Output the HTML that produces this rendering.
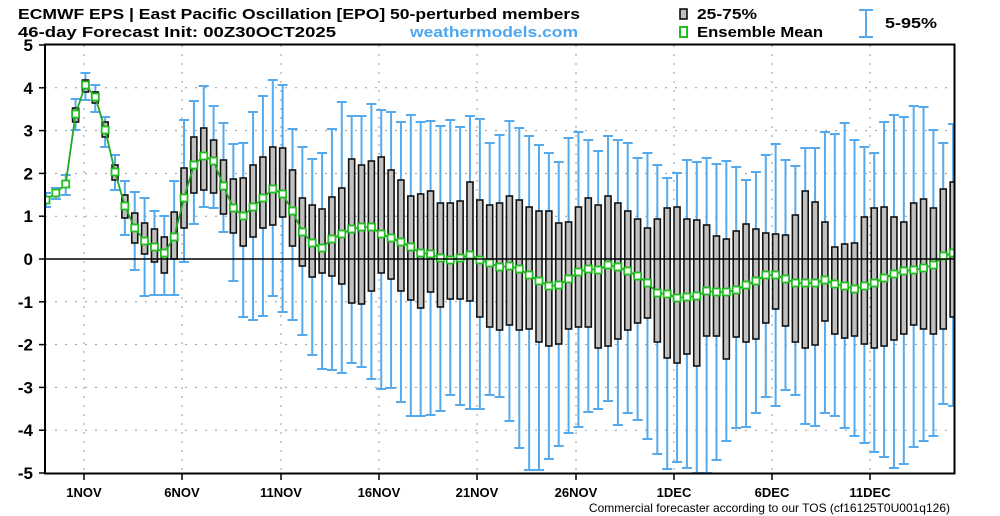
<!DOCTYPE html>
<html><head><meta charset="utf-8"><style>
html,body{margin:0;padding:0;background:#fff;}
svg{display:block;font-family:"Liberation Sans",sans-serif;}
</style></head><body>
<svg id="c" width="1000" height="516" xmlns="http://www.w3.org/2000/svg">
<defs><clipPath id="pc"><rect x="45" y="44" width="910" height="430"/></clipPath></defs>
<rect width="1000" height="516" fill="#fff"/>
<g font-weight="bold" font-size="15" fill="#000">
<text x="18" y="19" textLength="562" lengthAdjust="spacingAndGlyphs">ECMWF EPS | East Pacific Oscillation [EPO]  50-perturbed members</text>
<text x="18" y="37" textLength="318" lengthAdjust="spacingAndGlyphs">46-day Forecast Init: 00Z30OCT2025</text>
<text x="410" y="37" fill="#4da6f0" textLength="168" lengthAdjust="spacingAndGlyphs">weathermodels.com</text>
<text x="697" y="19" textLength="60" lengthAdjust="spacingAndGlyphs">25-75%</text>
<text x="697" y="37" textLength="126" lengthAdjust="spacingAndGlyphs">Ensemble Mean</text>
<text x="885" y="28" textLength="52" lengthAdjust="spacingAndGlyphs">5-95%</text>
</g>
<rect x="680" y="9" width="7" height="10" fill="#c0c0c0" stroke="#000" stroke-width="1.5"/>
<rect x="680" y="27" width="7" height="10" fill="#fff" stroke="#22bb22" stroke-width="2"/>
<g stroke="#55aaee" stroke-width="2"><line x1="866" y1="10" x2="866" y2="37"/><line x1="859" y1="10" x2="873" y2="10"/><line x1="859" y1="37" x2="873" y2="37"/></g>
<g id="grid"></g>
<g id="data" clip-path="url(#pc)"></g>
<line x1="45" y1="259" x2="955" y2="259" stroke="#000" stroke-width="1.5"/>
<rect x="45" y="44.5" width="909.5" height="429" fill="none" stroke="#000" stroke-width="2"/>
<g id="labels" font-weight="bold" fill="#000"></g>
<text x="950" y="512" font-size="12" text-anchor="end" fill="#000">Commercial forecaster according to our TOS (cf16125T0U001q126)</text>
</svg>
<script>
var NS="http://www.w3.org/2000/svg";
function el(p,t,a,txt){var e=document.createElementNS(NS,t);for(var k in a)e.setAttribute(k,a[k]);if(txt!==undefined)e.textContent=txt;p.appendChild(e);return e;}
var grid=document.getElementById('grid'),lab=document.getElementById('labels'),dat=document.getElementById('data');
for(var v=-5;v<=5;v++){var y=259-v*42.8;
 if(v>-5&&v<5&&v!=0)el(grid,'line',{x1:45,x2:955,y1:y,y2:y,stroke:'#999','stroke-dasharray':'2,8','stroke-width':1});
 el(lab,'line',{x1:39,x2:45,y1:y,y2:y,stroke:'#000','stroke-width':1.5});
 el(lab,'text',{x:33,y:y+6,'font-size':17,'text-anchor':'end'},String(v));}
var xl=[['1NOV',84],['6NOV',182],['11NOV',281],['16NOV',379],['21NOV',477],['26NOV',576],['1DEC',674],['6DEC',772],['11DEC',870]];
xl.forEach(function(d){el(grid,'line',{x1:d[1],x2:d[1],y1:45,y2:473,stroke:'#999','stroke-dasharray':'2,7','stroke-width':1});
 el(lab,'line',{x1:d[1],x2:d[1],y1:473,y2:480,stroke:'#000','stroke-width':1.5});
 el(lab,'text',{x:d[1],y:497,'font-size':13,'text-anchor':'middle'},d[0]);});
// [p95,q75,mean,q25,p5] in pixel y
var D=[[193,197,200,203,207],[188,191,193,195,199],[175,181,184,187,195],[99,108,114,122,130],[73,80,85,92,100],[85,92,97,103,112],[117,122,130,137,147],[155,165,172,180,190],[181,195,206,218,235],[192,213,228,243,270],[198,223,241,254,296],[211,229,247,262,295],[216,237,253,273,295],[181,212,237,259,295],[120,168,198,228,262],[101,137,165,193,224],[86,128,156,190,207],[106,140,161,193,208],[123,160,186,214,232],[144,179,208,233,281],[143,178,216,246,317],[112,165,207,237,320],[96,157,198,228,316],[80,147,189,225,296],[85,148,194,217,312],[129,170,211,246,320],[147,198,232,266,335],[159,205,243,277,355],[153,209,248,273,369],[129,197,239,276,370],[102,188,234,284,373],[116,159,229,303,363],[116,165,227,304,367],[104,161,227,291,379],[110,157,234,273,389],[112,170,238,279,388],[122,180,242,291,402],[115,196,247,300,416],[122,194,253,308,416],[121,191,254,292,415],[126,203,258,307,411],[120,203,260,299,395],[127,201,258,299,405],[116,182,255,301,409],[119,200,260,317,409],[143,205,263,327,395],[135,203,267,330,397],[121,196,266,325,421],[128,200,269,330,448],[136,207,275,329,470],[145,211,281,342,470],[153,211,286,346,459],[162,223,285,344,446],[138,222,279,329,433],[132,207,272,327,427],[140,198,269,327,412],[151,205,270,348,409],[136,196,265,346,401],[140,203,267,339,425],[143,211,271,330,413],[158,219,276,323,420],[153,228,283,318,439],[165,219,293,342,454],[178,208,294,358,469],[173,207,298,363,462],[160,219,297,354,468],[162,220,296,366,473],[158,225,291,336,473],[164,236,292,336,460],[161,239,292,359,441],[167,231,290,337,428],[180,224,285,342,427],[172,229,281,339,413],[155,233,275,323,397],[144,234,275,309,406],[160,235,279,326,390],[166,215,283,342,395],[148,191,283,348,424],[148,202,283,345,426],[132,222,280,321,413],[134,247,284,334,416],[123,244,286,338,428],[140,243,289,336,436],[147,217,286,344,443],[153,208,283,348,452],[122,207,278,346,457],[115,217,274,340,468],[117,222,271,334,464],[106,203,270,325,447],[107,199,268,329,441],[130,208,265,334,436],[143,189,256,329,404],[124,182,253,317,406]];
var pts=[];
D.forEach(function(d,i){var x=46+i*9.86;
 var w={stroke:'#55aaee','stroke-width':2};
 el(dat,'line',Object.assign({x1:x,x2:x,y1:d[0],y2:d[4]},w));
 el(dat,'line',Object.assign({x1:x-5,x2:x+5,y1:d[0],y2:d[0]},w));
 el(dat,'line',Object.assign({x1:x-5,x2:x+5,y1:d[4],y2:d[4]},w));});
D.forEach(function(d,i){var x=46+i*9.86;
 el(dat,'rect',{x:x-3,y:d[1],width:6,height:Math.max(d[3]-d[1],1),fill:'#c0c0c0',stroke:'#111','stroke-width':1.6});
 pts.push(x.toFixed(1)+','+d[2]);});
el(dat,'polyline',{points:pts.join(' '),fill:'none',stroke:'#22aa22','stroke-width':1.8});
D.forEach(function(d,i){var x=46+i*9.86;
 el(dat,'rect',{x:x-3.5,y:d[2]-3.5,width:7,height:7,fill:'#fff',stroke:'#22bb22','stroke-width':1.8});});
</script>
</body></html>
